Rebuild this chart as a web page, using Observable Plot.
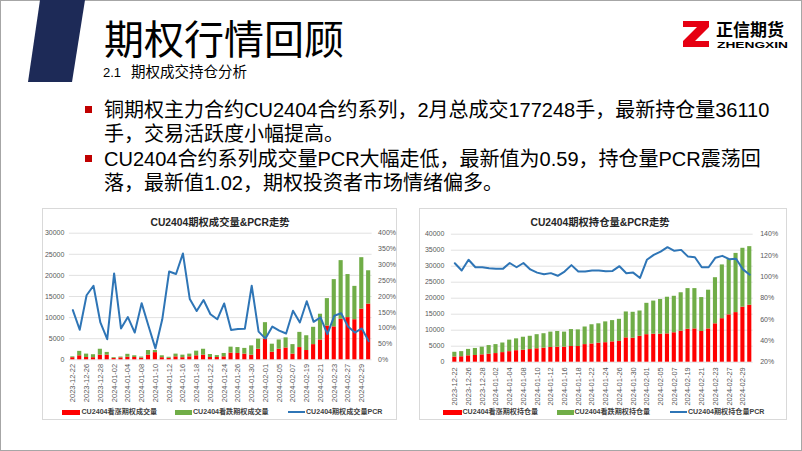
<!DOCTYPE html>
<html lang="zh-CN">
<head>
<meta charset="utf-8">
<script src="https://cdn.jsdelivr.net/npm/d3@7"></script>
<script src="https://cdn.jsdelivr.net/npm/@observablehq/plot@0.6"></script>
<style>
  html,body{margin:0;padding:0;background:#fff;}
  #slide{position:relative;width:802px;height:451px;overflow:hidden;background:#fff;font-family:"Liberation Sans","Noto Sans CJK SC",sans-serif;color:#000;}
  .abs{position:absolute;white-space:nowrap;}
  .panel{position:absolute;border:1px solid #d9d9d9;box-sizing:border-box;background:#fff;}
  .ctitle{position:absolute;font-weight:700;font-size:10.3px;line-height:1;text-align:center;color:#262626;white-space:nowrap;}
  .leg{position:absolute;font-size:7.1px;font-weight:700;line-height:1;color:#404040;white-space:nowrap;}
  .sw{position:absolute;}
</style>
</head>
<body>
<div id="slide">
  <svg class="abs" style="left:0;top:0" width="802" height="451" font-family="Liberation Sans, Noto Sans CJK SC, sans-serif">
    <rect x="0.5" y="0.5" width="801" height="450" fill="none" stroke="#a6a6a6"/>
    <polygon points="40,0 85,0 72,82 28,82" fill="#1d2a57"/>
    <polygon points="683,21 709,21 709,27 695,41 709,41 709,47 683,47 683,41 697,27 683,27" fill="#e60012"/>
    <text x="716" y="36" font-size="17" font-weight="700">正信期货</text>
    <text x="717" y="48" font-size="9" font-weight="700" textLength="71" lengthAdjust="spacingAndGlyphs">ZHENGXIN</text>

    <text x="104" y="54" font-size="40">期权行情回顾</text>
    <text x="103" y="76.5" font-size="14.5"><tspan font-size="13">2.1</tspan><tspan x="131">期权成交持仓分析</tspan></text>

    <rect x="85" y="106" width="7" height="7" fill="#c00000"/>
    <rect x="85" y="155" width="7" height="7" fill="#c00000"/>
    <g font-size="20">
      <text x="104" y="116.8">铜期权主力合约CU2404合约系列，2月总成交177248手，最新持仓量36110</text>
      <text x="104" y="141.3">手，交易活跃度小幅提高。</text>
      <text x="104" y="165.8">CU2404合约系列成交量PCR大幅走低，最新值为0.59，持仓量PCR震荡回</text>
      <text x="104" y="190.3">落，最新值1.02，期权投资者市场情绪偏多。</text>
    </g>
  </svg>

  <div class="panel" style="left:42px;top:208px;width:355px;height:212px;"></div>
  <div class="panel" style="left:419px;top:208px;width:368px;height:212px;"></div>

  <div class="ctitle" style="left:120px;width:200px;top:218px;">CU2404期权成交量&amp;PCR走势</div>
  <div class="ctitle" style="left:500px;width:200px;top:218px;">CU2404期权持仓量&amp;PCR走势</div>

  <div id="chartL" class="abs" style="left:42px;top:225px;"></div>
  <div id="chartR" class="abs" style="left:420px;top:225px;"></div>

  <div class="sw" style="left:62px;top:409.5px;width:18px;height:5px;background:#ff0000;"></div>
  <div class="leg" style="left:81.5px;top:408.5px;">CU2404看涨期权成交量</div>
  <div class="sw" style="left:175px;top:409.5px;width:17px;height:5px;background:#70ad47;"></div>
  <div class="leg" style="left:193px;top:408.5px;">CU2404看跌期权成交量</div>
  <div class="sw" style="left:288px;top:411px;width:17px;height:2px;background:#2e75b6;"></div>
  <div class="leg" style="left:306px;top:408.5px;">CU2404期权成交量PCR</div>

  <div class="sw" style="left:443px;top:409.5px;width:19px;height:5px;background:#ff0000;"></div>
  <div class="leg" style="left:462.5px;top:408.5px;">CU2404看涨期权持仓量</div>
  <div class="sw" style="left:557px;top:409.5px;width:17px;height:5px;background:#70ad47;"></div>
  <div class="leg" style="left:574.5px;top:408.5px;">CU2404看跌期权持仓量</div>
  <div class="sw" style="left:670px;top:411px;width:17px;height:2px;background:#2e75b6;"></div>
  <div class="leg" style="left:688px;top:408.5px;">CU2404期权持仓量PCR</div>
</div>

<script>
// ---- data ----
const dates = ["2023-12-22","2023-12-25","2023-12-26","2023-12-27","2023-12-28","2023-12-29",
  "2024-01-02","2024-01-03","2024-01-04","2024-01-05","2024-01-08","2024-01-09","2024-01-10","2024-01-11","2024-01-12",
  "2024-01-15","2024-01-16","2024-01-17","2024-01-18","2024-01-19","2024-01-22","2024-01-23","2024-01-24","2024-01-25","2024-01-26",
  "2024-01-29","2024-01-30","2024-01-31","2024-02-01","2024-02-02","2024-02-05","2024-02-06","2024-02-07","2024-02-08",
  "2024-02-19","2024-02-20","2024-02-21","2024-02-22","2024-02-23","2024-02-26","2024-02-27","2024-02-28","2024-02-29","2024-03-01"];

// 成交量 (volume)
const callVolume = [500,950,550,500,1100,1100,300,450,600,550,400,1100,1700,500,350,700,500,700,950,1100,550,550,
  700,1600,1500,1350,1100,2500,4900,1800,2500,2800,1350,2900,2200,3600,4700,8000,7800,9600,10000,9500,12000,13200];
const putVolume = [200,1050,800,700,1400,650,200,200,700,400,250,1100,500,450,250,650,600,650,1100,1400,700,450,
  800,1400,1400,1350,2200,2400,3900,1900,2200,2400,2250,3600,3500,4100,6100,6500,11200,13900,10200,7900,12200,7900];
const volumePCR = [157,95,204,234,118,65,273,99,135,86,179,107,36,128,279,271,336,192,154,189,144,128,
  178,94,97,98,234,89,67,105,92,83,155,118,185,120,134,81,139,147,105,86,99,59];

// 持仓量 (open interest)
const callOI = [1600,1700,2000,2100,2300,2500,2700,3000,3300,3600,3750,3950,4200,4400,4600,4700,4700,4900,4900,5500,5700,5950,
  6100,6350,6500,7600,7500,8100,8600,8750,8750,8850,9200,9700,10300,10400,9600,10400,12000,13600,14800,15500,17200,17800];
const putOI = [1500,1600,2000,2200,2400,2700,2800,3000,3600,3700,4050,4150,4400,4500,4800,4900,4700,5300,5200,5500,6000,6050,
  6500,6650,6900,8100,8100,7900,9800,10350,10850,11450,11400,12000,12700,12600,10600,12100,14400,16800,17300,18500,18400,18310];
const oiPCR = [112.8,106,116,109,109,108,107.5,107.5,113,109,113,107,104,102.5,103.5,101,105,111,105,105,106,106,
  105.3,105.6,110,103.4,104,99,116,120.6,123.75,127.8,124.4,125.3,119,118.4,109,109,118,119.7,116.6,117,107,102];

const volTicks = [0,5000,10000,15000,20000,25000,30000];
const volPctTicks = [0,50,100,150,200,250,300,350,400];
const oiTicks = [0,5000,10000,15000,20000,25000,30000,35000,40000];
const oiPctTicks = [20,40,60,80,100,120,140];

const xLabels = dates.filter((d, i) => i % 2 === 0);
const RED = "#ff0000", GREEN = "#70ad47", BLUE = "#2e75b6";

function stackRows(calls, puts) {
  const rows = [];
  dates.forEach((d, i) => {
    rows.push({date: d, series: "看涨", value: calls[i]});
    rows.push({date: d, series: "看跌", value: puts[i]});
  });
  return rows;
}

function makeChart({rows, pcr, yMax, pctMin, pctMax, yTicks, pctTicks, width, height, mt, mb, ml, mr, padL, padR, padX}) {
  const toY = p => (p - pctMin) / (pctMax - pctMin) * yMax;
  const lineRows = dates.map((d, i) => ({date: d, y: toY(pcr[i])}));
  return Plot.plot({
    width, height,
    marginTop: mt, marginBottom: mb, marginLeft: ml, marginRight: mr,
    style: {fontFamily: "Liberation Sans, Arial, sans-serif", fontSize: "7px", color: "#595959", background: "transparent", overflow: "visible"},
    x: {type: "band", domain: dates, paddingInner: 0.4, paddingOuter: 0.2, label: null},
    y: {domain: [0, yMax], label: null},
    color: {domain: ["看涨", "看跌"], range: [RED, GREEN]},
    marks: [
      Plot.gridY(yTicks, {stroke: "#d9d9d9", strokeOpacity: 1, strokeWidth: 0.8}),
      Plot.barY(rows, {x: "date", y: "value", fill: "series"}),
      Plot.lineY(lineRows, {x: "date", y: "y", stroke: BLUE, strokeWidth: 2, strokeLinejoin: "round"}),
      Plot.axisY(yTicks, {anchor: "left", tickSize: 0, tickPadding: padL, label: null, tickFormat: d => String(d)}),
      Plot.axisY(pctTicks.map(toY), {anchor: "right", tickSize: 0, tickPadding: padR, label: null,
        tickFormat: d => Math.round(d / yMax * (pctMax - pctMin) + pctMin) + "%"}),
      Plot.axisX(xLabels, {anchor: "bottom", tickSize: 0, tickPadding: padX, tickRotate: -90, label: null, fontSize: 7.5})
    ]
  });
}

document.getElementById("chartL").appendChild(makeChart({
  rows: stackRows(callVolume, putVolume), pcr: volumePCR,
  yMax: 30000, pctMin: 0, pctMax: 400, yTicks: volTicks, pctTicks: volPctTicks,
  width: 355, height: 180, mt: 7.7, mb: 45.7, ml: 26.9, mr: 355 - (371.6 - 42),
  padL: 5, padR: 6, padX: 4
}));

document.getElementById("chartR").appendChild(makeChart({
  rows: stackRows(callOI, putOI), pcr: oiPCR,
  yMax: 40000, pctMin: 20, pctMax: 140, yTicks: oiTicks, pctTicks: oiPctTicks,
  width: 365, height: 180, mt: 8.7, mb: 43.3, ml: 30.9, mr: 365 - (752.7 - 420),
  padL: 7, padR: 7, padX: 5
}));
</script>
</body>
</html>
